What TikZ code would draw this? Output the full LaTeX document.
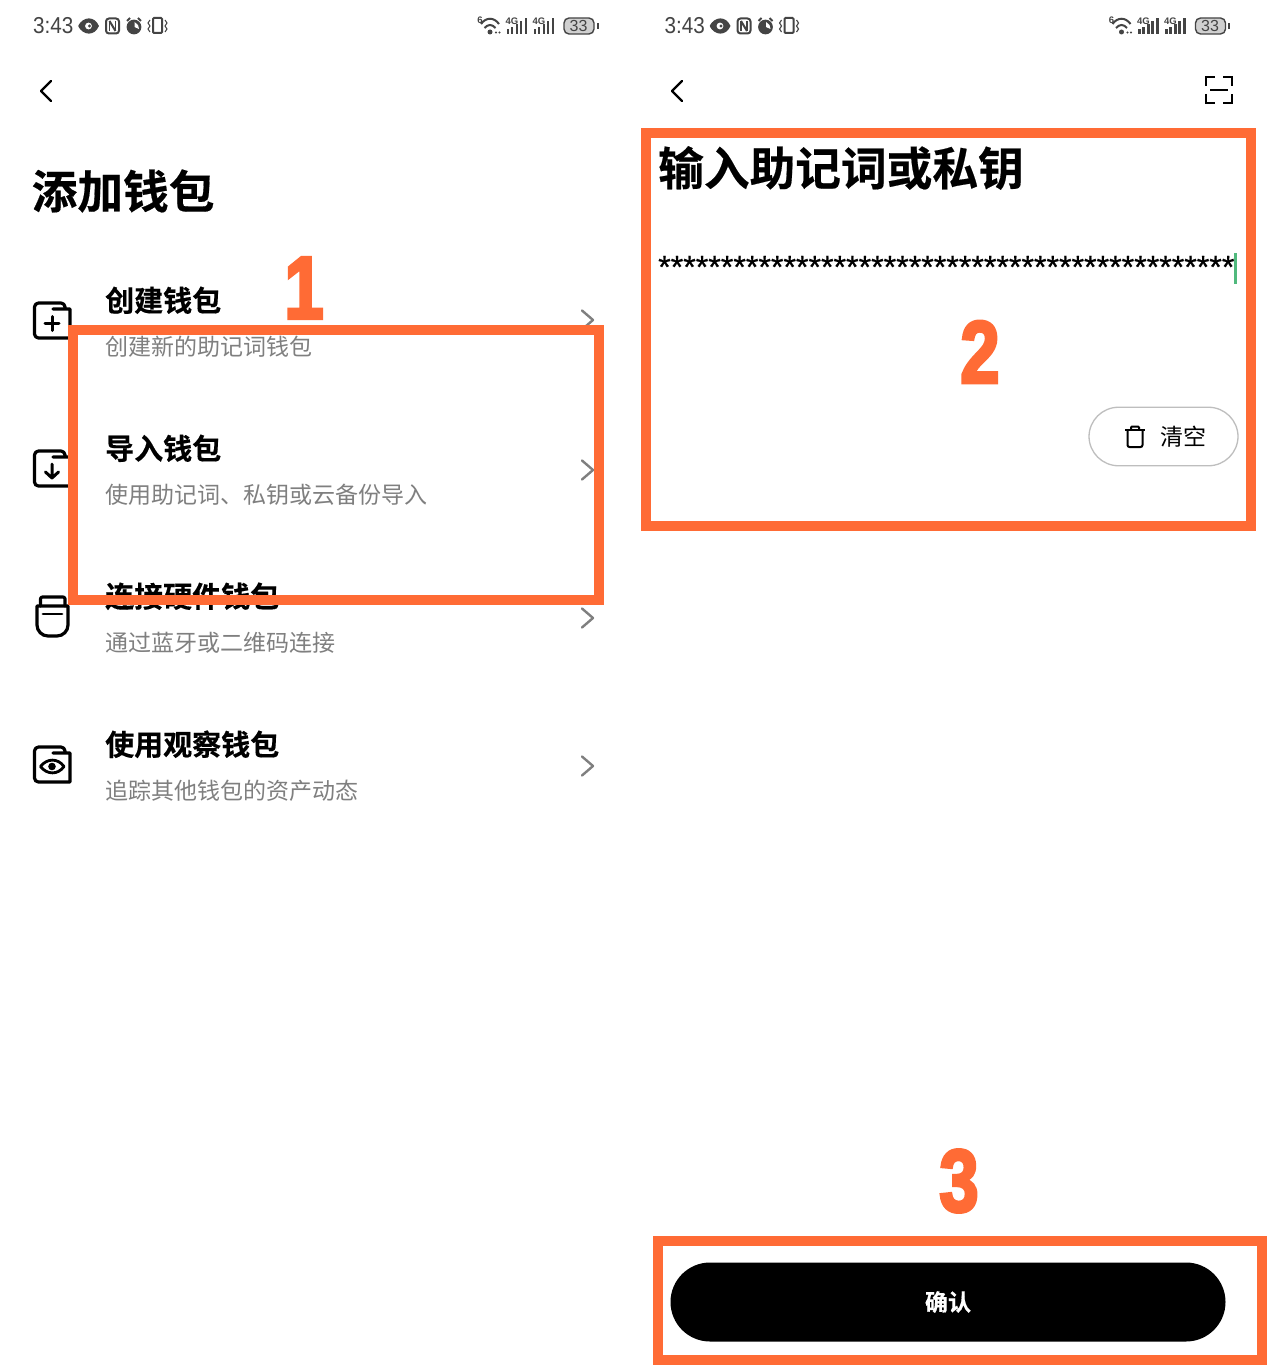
\documentclass[tikz,border=0pt]{standalone}
\usepackage{fontspec}
\setmainfont{Noto Sans CJK SC}
\newfontfamily\cjkb[FakeBold=0.4]{Noto Sans CJK SC Bold}
\newfontfamily\lat{Liberation Sans}
\newfontfamily\latb{Liberation Sans Bold}
\newfontfamily\starf[FakeBold=0.6]{Liberation Sans}
\newfontfamily\heavy[FakeBold=4]{Liberation Sans Bold}
\definecolor{hl}{HTML}{FF6B35}
\definecolor{subg}{HTML}{7F7F7F}
\definecolor{stat}{HTML}{444444}
\tikzset{
 x=1pt,y=-1pt,
 title/.style={anchor=west,inner sep=0,font=\cjkb\fontsize{45.7}{46}\selectfont},
 itemt/.style={anchor=west,inner sep=0,font=\cjkb\fontsize{29}{29}\selectfont},
 itemsub/.style={anchor=west,inner sep=0,text=subg,font=\fontsize{23}{24}\selectfont},
 hlbox/.style={draw=hl,line width=10pt,fill=none},
 bignum/.style={inner sep=0,text=hl,font=\heavy\fontsize{88}{88}\selectfont,xscale=.8,transform shape},
 ico/.style={draw=black,line width=3.2pt,line join=round,line cap=round},
 chev/.style={draw=#1,line width=2.4pt,line cap=round,line join=round},
 clock/.style={anchor=west,inner sep=0,text=stat,font=\lat\fontsize{23}{23}\selectfont,xscale=.9,transform shape},
 sticon/.style={draw=stat,line width=1.7pt},
 tiny/.style={inner sep=0,text=stat,font=\latb\fontsize{9.5}{9.5}\selectfont},
}
\newcommand{\statusbar}[1]{%
 \begin{scope}[shift={(#1,0)}]
 \node[clock] (clk#1) at (33,26) {3:43};
 \draw[sticon,fill=stat] (79,26) .. controls (84,17) and (94,17) .. (98,26) .. controls (94,35) and (84,35) .. (79,26);
 \fill[white] (88.5,26) circle (3.4);
 \fill[stat] (89.5,26) circle (1.7);
 \draw[sticon,rounded corners=3,line width=2pt] (106,18.5) rectangle (119,33.5);
 \draw[sticon,line width=2pt] (109.5,21) -- (115.5,31);
 \draw[sticon,line width=1.3pt] (109.5,21) -- (109.5,31) (115.5,21) -- (115.5,31);
 \draw[sticon,fill=stat] (134,27) circle (6.5);
 \fill[white] (134.5,22) -- (134.5,27) -- (139,29) -- (138,25) -- cycle;
 \draw[sticon,line width=2pt] (127,21) -- (130,18) (141,21) -- (138,18);
 \draw[sticon,rounded corners=1,line width=2pt] (153,18) rectangle (162,33);
 \draw[sticon,line width=1.1pt] (150,20) -- (148,23) -- (150,26) -- (148,29) -- (150,32) (165,20) -- (167,23) -- (165,26) -- (167,29) -- (165,32);
 \draw[sticon,line width=2pt] (481,24) .. controls (486,17) and (494,17) .. (499,24);
 \draw[sticon,line width=2pt] (484.5,28) .. controls (488,24) and (492,24) .. (495.5,28);
 \fill[stat] (490,32) circle (2.5);
 \fill[stat] (496,32.5) circle (1.2) (499.5,32.5) circle (1.2);
 \node[tiny] (six#1) at (480,20) {6};
 \node[tiny] (lte#1) at (512,21) {4G};
 \node[tiny] (ltf#1) at (539,21) {4G};
 \foreach \xx/\yy in {508/29,512/27,517/24,521/21,526/18,535/29,539/27,544/24,548/21,553/18}{
   \draw[stat,line width=2.6pt] (\xx,34) -- (\xx,\yy);
 }
 \draw[stat,line width=1.4pt,fill=stat!25,rounded corners=5] (564,18) rectangle (594,34);
 \node[inner sep=0,text=stat,font=\lat\fontsize{16}{16}\selectfont] (bat#1) at (578.5,26) {33};
 \fill[stat] (596.5,23) rectangle (598.5,29);
 \end{scope}}
\begin{document}
\begin{tikzpicture}
\useasboundingbox (0,0) rectangle (1267,1367);
\fill[white] (0,0) rectangle (1267,1367);
\statusbar{0}
\statusbar{631.5}
% left screen
\coordinate (b1a) at (51,81); \coordinate (b1b) at (41,91); \coordinate (b1c) at (51,101);
\draw[chev=black] (b1a) -- (b1b) -- (b1c);
\node[title] (ltitle) at (31.5,191) {添加钱包};
\node[itemt] (t1) at (105,300.3) {创建钱包};
\node[itemsub] (s1) at (105,347) {创建新的助记词钱包};
\node[itemt] (t2) at (105,448.3) {导入钱包};
\node[itemsub] (s2) at (105,495) {使用助记词、私钥或云备份导入};
\node[itemt] (t3) at (105,596.3) {连接硬件钱包};
\node[itemsub] (s3) at (105,643) {通过蓝牙或二维码连接};
\node[itemt] (t4) at (105,744.3) {使用观察钱包};
\node[itemsub] (s4) at (105,791) {追踪其他钱包的资产动态};
% wallet icons
\foreach \yy in {0,148,444}{
 \begin{scope}[yshift=-\yy pt]
 \draw[ico] (53,309) -- (70,309) -- (70,338) [rounded corners=4] -- (34.5,338) -- (34.5,303) -- (65,303) [sharp corners] -- (65,309);
 \end{scope}
}
\draw[ico,line width=3pt] (52,316.5) -- (52,330.5) (45,323.5) -- (59,323.5);
\draw[ico,line width=3pt] (52,464) -- (52,478) (45.5,472) -- (52,478) -- (58.5,472);
\draw[ico,line width=2.8pt] (40.5,766.5) .. controls (47,758) and (58,758) .. (64,766.5) .. controls (58,775) and (47,775) .. (40.5,766.5);
\fill (52,766.5) circle (3.8);
\draw[ico,rounded corners=2] (40.5,606) -- (40.5,597) -- (65,597) -- (65,606);
\draw[ico] (37,606) -- (68,606) [rounded corners=11] -- (68,636) -- (37,636) [sharp corners] -- cycle;
\draw[ico,line width=2.8pt] (43,614) -- (62,614);
% chevrons
\foreach \yy/\nm in {320/a,470/b,618/c,766/d}{
 \coordinate (c\nm1) at (582,\yy-9.5); \coordinate (c\nm2) at (593,\yy); \coordinate (c\nm3) at (582,\yy+9.5);
 \draw[chev=subg] (c\nm1) -- (c\nm2) -- (c\nm3);
}
% right screen
\coordinate (b2a) at (682,81); \coordinate (b2b) at (672,91); \coordinate (b2c) at (682,101);
\draw[chev=black] (b2a) -- (b2b) -- (b2c);
\draw[ico,line cap=butt,line width=2.7pt,line join=miter] (1206,86) -- (1206,77) -- (1215,77) (1223,77) -- (1232,77) -- (1232,86) (1206,94) -- (1206,103) -- (1215,103) (1223,103) -- (1232,103) -- (1232,94) (1210,90) -- (1228,90);
\node[title] (rtitle) at (658,168) {输入助记词或私钥};
\node[anchor=base west,inner sep=0,font=\starf\fontsize{32.2}{32}\selectfont] (stars) at (658,278) {**********************************************};
\draw[draw={rgb,255:red,80;green,185;blue,125},line width=2.4pt] (1235.5,253) -- (1235.5,284);
\node[draw={rgb,255:red,190;green,190;blue,190},line width=1.3pt,rounded corners=29.5pt,minimum width=149pt,minimum height=58.5pt,inner sep=0,fill=none] (clr) at (1163.5,436.5) {};
\node[anchor=center,inner sep=0,font=\fontsize{23}{24}\selectfont] (clrt) at (1183.5,437) {清空};
\draw[line width=2pt,rounded corners=2] (1127.5,431) -- (1127.5,447) -- (1142.5,447) -- (1142.5,431);
\draw[line width=2pt] (1125,430) -- (1145,430);
\draw[line width=2pt,rounded corners=1] (1131,430) -- (1131,426.5) -- (1139,426.5) -- (1139,430);
\node[fill=black,text=white,rounded corners=39.5pt,minimum width=555pt,minimum height=79pt,inner sep=0,font=\cjkb\fontsize{23}{24}\selectfont] (ok) at (948,1302) {确认};
% highlight frames
\draw[hlbox] (73,330) rectangle (599,600);
\draw[hlbox] (646,133) rectangle (1250.5,526);
\draw[hlbox] (658,1241) rectangle (1262,1360);
\node[bignum] (n1) at (304,288) {1};
\node[bignum] (n2) at (980,352) {2};
\node[bignum] (n3) at (959,1181) {3};
\end{tikzpicture}
\end{document}
